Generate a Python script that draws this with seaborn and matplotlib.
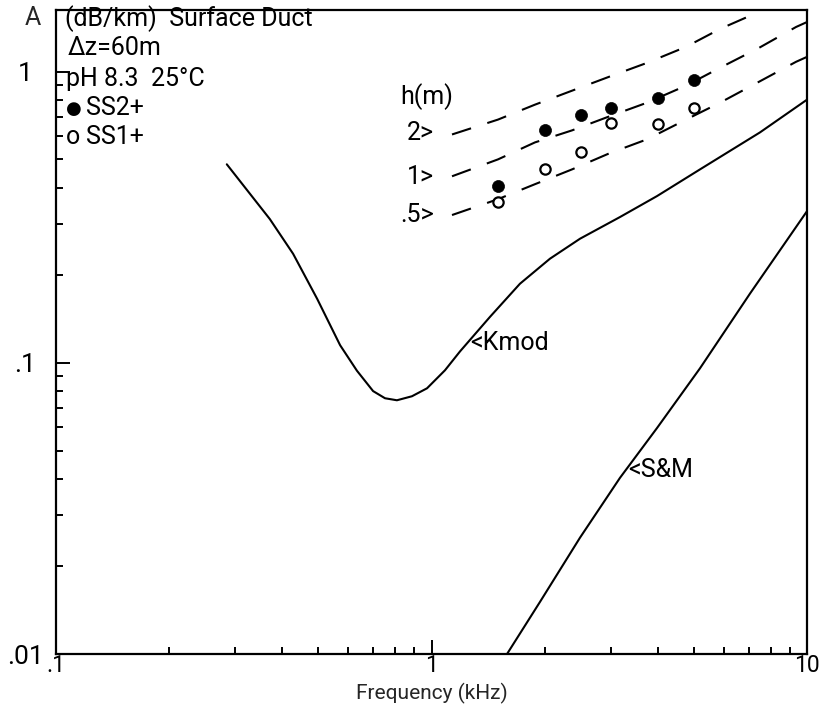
import matplotlib
matplotlib.use("Agg")
import matplotlib.pyplot as plt
import seaborn as sns
import pandas as pd
from matplotlib import font_manager
from matplotlib.ticker import LogLocator, NullFormatter, FixedLocator, FixedFormatter

# ---------------- data ----------------
kmod_f = [0.285, 0.329, 0.371, 0.428, 0.496, 0.571, 0.633, 0.699, 0.752, 0.809,
          0.887, 0.973, 1.086, 1.191, 1.432, 1.720, 2.068, 2.486, 3.177, 3.985,
          5.188, 7.494, 10.0]
kmod_a = [0.481, 0.380, 0.312, 0.237, 0.166, 0.115, 0.094, 0.080, 0.0756, 0.0744,
          0.0768, 0.0818, 0.0943, 0.1095, 0.144, 0.187, 0.228, 0.267, 0.317, 0.374,
          0.462, 0.619, 0.802]

sm_f = [1.589, 1.945, 2.486, 3.177, 3.985, 5.188, 7.050, 10.0]
sm_a = [0.0100, 0.0151, 0.0251, 0.0403, 0.0597, 0.0958, 0.173, 0.332]

h2_f = [1.134, 1.503, 1.886, 2.367, 2.970, 3.749, 4.762, 5.866, 7.40]
h2_a = [0.609, 0.685, 0.771, 0.861, 0.961, 1.073, 1.218, 1.403, 1.60]

h1_f = [1.134, 1.503, 1.886, 2.367, 2.970, 3.749, 4.762, 5.866, 7.450, 9.35, 10.0]
h1_a = [0.4375, 0.500, 0.572, 0.629, 0.702, 0.783, 0.896, 1.032, 1.208, 1.425, 1.482]

h05_f = [1.134, 1.503, 1.886, 2.367, 2.970, 3.749, 4.762, 5.866, 7.450, 9.35, 10.0]
h05_a = [0.322, 0.365, 0.411, 0.462, 0.524, 0.586, 0.685, 0.783, 0.924, 1.082, 1.125]

ss_f = [1.5, 2.0, 2.5, 3.0, 4.0, 5.0]
ss2_a = [0.404, 0.633, 0.713, 0.753, 0.815, 0.939]
ss1_a = [0.357, 0.462, 0.529, 0.669, 0.659, 0.753]

x_ticks = [0.1, 1, 10]
x_ticklabels = [".1", "1", "10"]
y_ticks = [0.01, 0.1, 1]
y_ticklabels = [".01", ".1", "1"]

# ---------------- style ----------------
sns.set_theme(style="ticks")
names = {f.name for f in font_manager.fontManager.ttflist}
fam = "Roboto" if "Roboto" in names else "DejaVu Sans"
plt.rcParams['font.family'] = [fam, 'DejaVu Sans']

W, H = 836, 705
fig = plt.figure(figsize=(W / 100, H / 100), dpi=100)
fig.patch.set_facecolor("white")
L, R, T, B = 56, 807, 10, 654
ax = fig.add_axes([L / W, (H - B) / H, (R - L) / W, (B - T) / H])
ax.set_facecolor("white")

LW = 1.5
solid = pd.concat([
    pd.DataFrame({"f": kmod_f, "a": kmod_a, "c": "Kmod"}),
    pd.DataFrame({"f": sm_f, "a": sm_a, "c": "S&M"}),
])
for name, d in solid.groupby("c"):
    sns.lineplot(data=d, x="f", y="a", ax=ax, color="black", lw=LW,
                 estimator=None, sort=False, legend=False)

for fx_, ay in [(h2_f, h2_a), (h1_f, h1_a), (h05_f, h05_a)]:
    d = pd.DataFrame({"f": fx_, "a": ay})
    sns.lineplot(data=d, x="f", y="a", ax=ax, color="black", lw=LW,
                 estimator=None, sort=False, legend=False,
                 linestyle=(0, (9.6, 8.2)))

sns.scatterplot(x=ss_f, y=ss1_a, ax=ax, marker="o", s=55, facecolor="white",
                edgecolor="black", linewidth=1.6, zorder=5, legend=False)
sns.scatterplot(x=ss_f, y=ss2_a, ax=ax, marker="o", s=75, color="black",
                edgecolor="black", linewidth=0.5, zorder=6, legend=False)

ax.set_xscale("log")
ax.set_yscale("log")
ax.set_xlim(0.1, 10)
ax.set_ylim(0.01, 1.63)
ax.xaxis.set_major_locator(FixedLocator(x_ticks))
ax.xaxis.set_major_formatter(FixedFormatter(x_ticklabels))
ax.yaxis.set_major_locator(FixedLocator(y_ticks))
ax.yaxis.set_major_formatter(FixedFormatter(y_ticklabels))
for axis in (ax.xaxis, ax.yaxis):
    axis.set_minor_locator(LogLocator(base=10, subs=range(2, 10)))
    axis.set_minor_formatter(NullFormatter())
ax.tick_params(which="both", direction="in", top=False, right=False,
               color="black", width=1.4, labelsize=19, labelcolor="black")
ax.tick_params(axis="x", which="major", length=10, pad=0, labelsize=16.5)
ax.tick_params(axis="y", which="major", length=10, pad=22)
ax.tick_params(which="minor", length=5)
for lab in ax.get_yticklabels():
    lab.set_horizontalalignment("center")
for s in ax.spines.values():
    s.set_color("black")
    s.set_linewidth(1.6)
ax.set_xlabel("")
ax.set_ylabel("")

fig.text(432 / W, 1 - 704 / H, "Frequency (kHz)", fontsize=15,
         ha="center", va="bottom")
fig.text(33 / W, 1 - 18 / H, "A", fontsize=18, ha="center", va="center")

def fx(px):
    return (px - L) / (R - L)

def fy(py):
    return (B - py) / (B - T)

FS = 18
tk = dict(transform=ax.transAxes, fontsize=FS, color="black", va="center")
ax.text(fx(65), fy(19), "(dB/km)  Surface Duct", ha="left", **tk)
ax.text(fx(68), fy(48), "Δz=60m", ha="left", **tk)
ax.text(fx(66), fy(79), "pH 8.3  25°C", ha="left", **tk)
ax.text(fx(66), fy(109), "●", ha="left", transform=ax.transAxes, fontsize=13,
        color="black", va="center")
ax.text(fx(86), fy(108), "SS2+", ha="left", **tk)
ax.text(fx(66), fy(137), "o", ha="left", **tk)
ax.text(fx(86), fy(137), "SS1+", ha="left", **tk)
ax.text(fx(400), fy(97), "h(m)", ha="left", **tk)
ax.text(fx(434), fy(133), "2>", ha="right", **tk)
ax.text(fx(434), fy(177), "1>", ha="right", **tk)
ax.text(fx(434), fy(215), ".5>", ha="right", **tk)
ax.text(fx(470), fy(343), "<Kmod", ha="left", **tk)
ax.text(fx(628), fy(470), "<S&M", ha="left", **tk)

fig.savefig("out.png", dpi=100, facecolor="white")
